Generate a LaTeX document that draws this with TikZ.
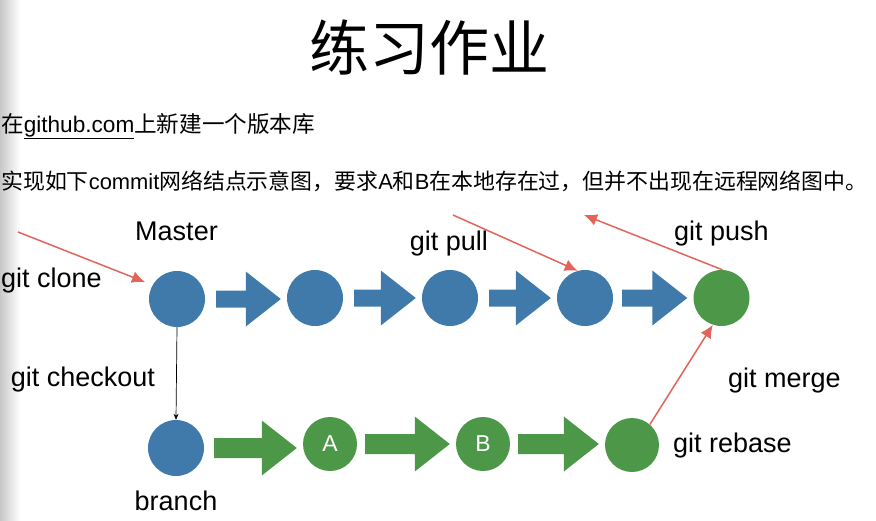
\documentclass[tikz,border=0pt]{standalone}
\usepackage{fontspec}
\setmainfont{Liberation Sans}
\newfontfamily\cjk{Noto Sans CJK SC}
\newfontfamily\lat{Liberation Sans}
\usetikzlibrary{arrows.meta,calc}
\definecolor{cblue}{RGB}{64,122,170}
\definecolor{cgreen}{RGB}{76,152,72}
\definecolor{cred}{RGB}{226,100,90}
\newcommand\blockarr[5]{% from, to, bodyhalf, color, startgap
  \fill[#4] let \p1=($(#1.east)+(#5,0)$), \p2=($(#2.west)+(-6,0)$) in
   (\x1,\y1+#3pt) -- (\x2-35pt,\y1+#3pt) -- (\x2-35pt,\y1+27.5pt) -- (\x2,\y1)
   -- (\x2-35pt,\y1-27.5pt) -- (\x2-35pt,\y1-#3pt) -- (\x1,\y1-#3pt) -- cycle;}
\begin{document}
\begin{tikzpicture}[x=1pt,y=-1pt,
  commit/.style={circle,minimum size=56pt,inner sep=0pt,fill=#1},
  lab/.style={font=\fontsize{27}{30}\selectfont,inner sep=0pt,anchor=base},
  redarr/.style={draw=cred,line width=1.5pt,-{Latex[length=13pt,width=12pt]}}]
\useasboundingbox (0,0) rectangle (876,520);
\shade[left color=black!22,right color=white] (0,0) rectangle (20,520);
% title and text
\node[font=\cjk\fontsize{60}{70}\selectfont,inner sep=0pt] (title) at (429,48) {练习作业};
\node[font=\cjk\fontsize{22.6}{26}\selectfont,inner sep=0pt,anchor=base west] (line1) at (1,132) {在{\lat\underline{github.com}}上新建一个版本库};
\node[font=\cjk\fontsize{21.9}{26}\selectfont,inner sep=0pt,anchor=base west] (line2) at (1,189) {实现如下{\lat commit}网络结点示意图，要求{\lat A}和{\lat B}在本地存在过，但并不出现在远程网络图中。};
% top row
\node[commit=cblue] (m1) at (177,299) {};
\node[commit=cblue] (m2) at (315,298) {};
\node[commit=cblue] (m3) at (450,298) {};
\node[commit=cblue] (m4) at (585,298) {};
\node[commit=cgreen] (m5) at (721.5,298) {};
\blockarr{m1}{m2}{8.5}{cblue}{11}
\blockarr{m2}{m3}{8.5}{cblue}{11}
\blockarr{m3}{m4}{8.5}{cblue}{11}
\blockarr{m4}{m5}{8.5}{cblue}{9}
% bottom row
\node[commit=cblue] (b1) at (176,448) {};
\node[commit=cgreen,minimum size=54pt,text=white,font=\fontsize{23}{26}\selectfont] (b2) at (330,444) {A};
\node[commit=cgreen,minimum size=54pt,text=white,font=\fontsize{23}{26}\selectfont] (b3) at (483,444) {B};
\node[commit=cgreen,minimum size=54pt] (b4) at (632,445) {};
\blockarr{b1}{b2}{10}{cgreen}{10}
\blockarr{b2}{b3}{10}{cgreen}{8}
\blockarr{b3}{b4}{10}{cgreen}{8}
% labels
\node[lab] (lmaster) at (176.5,240) {Master};
\node[lab,anchor=base west] (lclone) at (1,287) {git clone};
\node[lab] (lpull) at (449,250) {git pull};
\node[lab] (lpush) at (721.5,240) {git push};
\node[lab] (lcheckout) at (83,386) {git checkout};
\node[lab,anchor=base west] (lmerge) at (728,387) {git merge};
\node[lab,anchor=base west] (lrebase) at (673,452) {git rebase};
\node[lab] (lbranch) at (176,510) {branch};
% connectors
\coordinate (clonestart) at (18,232);
\coordinate (clonetip) at (145,282);
\coordinate (pullstart) at (453,215);
\coordinate (pushtip) at (584,215);
\draw[redarr] (clonestart) -- (clonetip);
\draw[redarr] (pullstart) -- (m4.105);
\draw[redarr] (m5.88) -- (pushtip);
\draw[redarr] (b4.49) -- (m5.252);
\draw[line width=0.7pt,-{Stealth[length=6pt,width=5pt]}] (m1.south) -- (b1.north);
\end{tikzpicture}
\end{document}
